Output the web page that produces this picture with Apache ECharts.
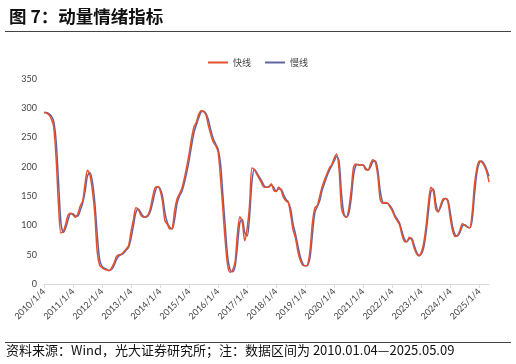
<!DOCTYPE html>
<html><head><meta charset="utf-8">
<script src="https://cdn.jsdelivr.net/npm/echarts@6/dist/echarts.min.js"></script>
<style>html,body{margin:0;padding:0;background:#fff}#c{width:516px;height:364px}</style>
</head><body><div id="c"></div>
<script>
var yearLabels = ['2010/1/4','2011/1/4','2012/1/4','2013/1/4','2014/1/4','2015/1/4','2016/1/4','2017/1/4','2018/1/4','2019/1/4','2020/1/4','2021/1/4','2022/1/4','2023/1/4','2024/1/4','2025/1/4'];
var seriesNames = ['快线','慢线'];
var fastLine = [293,292,289,282,268,215,135,87,90,103,118,121,
118,114,120,133,142,172,194,186,160,120,55,32,
28,25,24,23,28,36,47,50,51,55,60,66,
90,110,130,127,118,114,115,118,130,150,165,166,
160,140,108,102,94,95,125,145,154,163,180,200,
222,248,268,276,290,296,294,288,270,255,242,236,
225,180,125,70,30,20,24,38,87,115,105,74,
95,135,198,195,187,180,172,165,165,166,171,160,
158,165,160,148,142,139,118,92,78,55,40,32,
31,33,58,105,130,134,150,166,178,188,198,204,
215,222,195,130,117,114,128,160,200,205,203,203,
203,195,195,205,212,208,185,145,138,139,138,132,
125,115,108,101,84,73,72,80,76,62,52,48,
54,70,100,140,165,158,128,123,135,145,146,140,
112,90,81,83,92,103,100,97,96,120,170,198,
210,208,202,192,174];
var slowLine = [293,293,291,287,278,245,175,105,88,96,110,120,
120,116,116,126,138,158,185,190,175,140,85,42,
30,27,25,23,25,32,42,48,50,53,58,63,
78,100,122,128,122,116,114,116,124,140,158,166,
163,150,122,105,97,94,110,137,150,158,172,190,
211,236,258,272,284,294,295,291,280,262,248,239,
230,205,150,95,45,24,21,30,65,105,110,88,
82,115,175,196,190,183,176,168,165,166,169,165,
158,162,162,153,145,140,128,102,85,65,46,35,
31,32,45,85,122,132,142,160,172,184,194,202,
210,218,210,155,120,114,120,145,185,203,204,203,
203,198,194,200,209,210,195,160,140,138,138,134,
128,118,111,104,90,77,72,77,78,67,55,49,
51,62,88,125,158,162,138,124,131,142,146,143,
122,97,84,82,88,99,101,98,96,108,152,190,
207,210,205,196,184];

var categories = [];
for (var i = 0; i < fastLine.length; i++) {
  var y = 2010 + Math.floor(i / 12), m = i % 12 + 1;
  categories.push(y + '/' + m);
}
var isYear = function (idx) { return idx % 12 === 0; };

var chart = echarts.init(document.getElementById('c'), null, {renderer: 'canvas'});
var numFont = 'Lato, "Noto Sans CJK SC", sans-serif';
chart.setOption({
  animation: false,
  backgroundColor: '#fff',
  title: {
    text: '图 7：动量情绪指标', left: 4, top: 3,
    textStyle: {fontFamily: '"Noto Sans CJK SC", sans-serif', fontSize: 17.5, fontWeight: 'bold', color: '#111'}
  },
  graphic: [
    {type: 'line', shape: {x1: 5, y1: 31.5, x2: 511, y2: 31.5}, style: {stroke: '#444', lineWidth: 1.2}},
    {type: 'line', shape: {x1: 5, y1: 342.5, x2: 511, y2: 342.5}, style: {stroke: '#444', lineWidth: 1}},
    {type: 'text', left: 6, top: 344, style: {text: '资料来源：Wind，光大证券研究所；注：数据区间为 2010.01.04—2025.05.09', font: '13px "Noto Sans CJK SC", sans-serif', fill: '#111'}}
  ],
  legend: {
    top: 53, left: 'center', itemWidth: 20, itemHeight: 2, itemGap: 14,
    icon: 'rect',
    textStyle: {fontSize: 9, color: '#444', fontFamily: '"Noto Sans CJK SC", sans-serif'},
    data: seriesNames
  },
  grid: {left: 44, right: 27, top: 79, bottom: 80},
  xAxis: {
    type: 'category', data: categories, boundaryGap: false,
    axisLine: {lineStyle: {color: '#d9d9d9', width: 1}},
    axisTick: {interval: function (idx) { return isYear(idx); }, length: 4, lineStyle: {color: '#d9d9d9'}},
    axisLabel: {
      interval: function (idx) { return isYear(idx); },
      formatter: function (v, idx) { return yearLabels[idx / 12] || ''; },
      rotate: 45, fontSize: 9, color: '#444', fontFamily: numFont, margin: 6
    },
    splitLine: {show: false}
  },
  yAxis: {
    type: 'value', min: 0, max: 350, interval: 50,
    axisLine: {show: false}, axisTick: {show: false}, splitLine: {show: false},
    axisLabel: {fontSize: 9, color: '#444', fontFamily: numFont, margin: 7}
  },
  series: [
    {name: seriesNames[0], type: 'line', data: fastLine, showSymbol: false, smooth: 0.3,
      lineStyle: {color: '#E4502C', width: 1.5}, itemStyle: {color: '#E4502C'}, z: 3},
    {name: seriesNames[1], type: 'line', data: slowLine, showSymbol: false, smooth: 0.3,
      lineStyle: {color: '#62649F', width: 1.5}, itemStyle: {color: '#62649F'}, z: 2}
  ]
});
</script></body></html>
